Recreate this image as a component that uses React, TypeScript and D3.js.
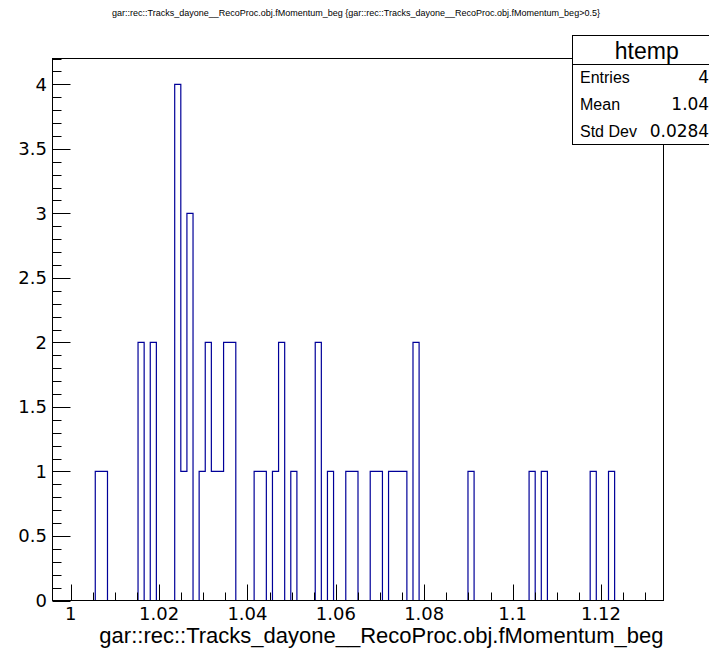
import React from 'react';
import * as d3 from 'd3';

// histogram "htemp": 100 bins, counts
const xRange = [0.99588, 1.13415];
const binCounts = [
  0, 0, 0, 0, 0, 0, 0, 1, 1, 0,
  0, 0, 0, 0, 2, 0, 2, 0, 0, 0,
  4, 1, 3, 0, 1, 2, 1, 1, 2, 2,
  0, 0, 0, 1, 1, 0, 1, 2, 0, 1,
  0, 0, 0, 2, 0, 1, 0, 0, 1, 1,
  0, 0, 1, 1, 0, 1, 1, 1, 0, 2,
  0, 0, 0, 0, 0, 0, 0, 0, 1, 0,
  0, 0, 0, 0, 0, 0, 0, 0, 1, 0,
  1, 0, 0, 0, 0, 0, 0, 0, 1, 0,
  0, 1, 0, 0, 0, 0, 0, 0, 0, 0,
];
const yMax = 4.2;
const xMajorTicks = [1, 1.02, 1.04, 1.06, 1.08, 1.1, 1.12];
const yMajorTicks = [0, 0.5, 1, 1.5, 2, 2.5, 3, 3.5, 4];
const statsLabels = ['Entries', 'Mean', 'Std Dev'];
const statsValues = ['46', '1.048', '0.02847'];

const varName = 'gar::rec::Tracks_dayone__RecoProc.obj.fMomentum_beg';
const title = `${varName} {${varName}>0.5}`;

const W = 709;
const H = 648;
const frame = { left: 52.5, right: 663.5, top: 58.5, bottom: 600.5 };
const numFont = '"DejaVu Sans", sans-serif';
const txtFont = '"Liberation Sans", Arial, sans-serif';

const App = () => {
  const x = d3.scaleLinear().domain(xRange).range([frame.left, frame.right]);
  const y = d3.scaleLinear().domain([0, yMax]).range([frame.bottom, frame.top]);

  const nBins = binCounts.length;
  const binW = (xRange[1] - xRange[0]) / nBins;
  const pts: [number, number][] = [];
  binCounts.forEach((c, i) => {
    pts.push([xRange[0] + i * binW, c]);
    pts.push([xRange[0] + (i + 1) * binW, c]);
  });
  const histPath = d3.line<[number, number]>()
    .x(d => x(d[0]))
    .y(d => y(d[1]))(pts);

  // minor ticks
  const xMinor = d3.range(0, 27).map(i => 1 + i * 0.005).filter(v => v <= xRange[1]);
  const yMinor = d3.range(0, 43).map(i => i * 0.1).filter(v => v <= yMax + 1e-9);

  const box = { left: 572.5, right: 721, top: 35.5, head: 64.5, bottom: 144.5 };
  const rowH = (box.bottom - box.head) / statsLabels.length;

  return (
    <svg width={W} height={H} style={{ position: 'absolute', left: 0, top: 0, background: '#fff' }}>
      <rect x={0} y={0} width={W} height={H} fill="#fff" />
      <text x={356} y={16} fontSize={9} fontFamily={txtFont} textAnchor="middle" fill="#000">
        {title}
      </text>

      {/* histogram outline */}
      <path d={histPath || ''} fill="none" stroke="#000099" strokeWidth={1.2} />

      {/* frame */}
      <rect
        x={frame.left}
        y={frame.top}
        width={frame.right - frame.left}
        height={frame.bottom - frame.top}
        fill="none"
        stroke="#000"
        strokeWidth={1}
      />

      {/* ticks */}
      <g stroke="#000" strokeWidth={1}>
        {xMinor.map(v => {
          const major = xMajorTicks.some(t => Math.abs(t - v) < 1e-6);
          const px = Math.round(x(v)) + 0.5;
          return <line key={'xm' + v} x1={px} x2={px} y1={frame.bottom} y2={frame.bottom - (major ? 16 : 8)} />;
        })}
        {yMinor.map(v => {
          const major = yMajorTicks.some(t => Math.abs(t - v) < 1e-6);
          const py = Math.round(y(v)) + 0.5;
          return <line key={'ym' + v} x1={frame.left} x2={frame.left + (major ? 18 : 9)} y1={py} y2={py} />;
        })}
      </g>

      {/* tick labels */}
      <g fontFamily={numFont} fontSize={18} fill="#000">
        {xMajorTicks.map(t => (
          <text key={'xl' + t} x={x(t)} y={619.5} textAnchor="middle">
            {d3.format('~g')(t)}
          </text>
        ))}
        {yMajorTicks.map(t => (
          <text key={'yl' + t} x={47} y={y(t) + 6.5} textAnchor="end">
            {d3.format('~g')(t)}
          </text>
        ))}
      </g>

      {/* axis title */}
      <text x={frame.right} y={643} fontSize={22} fontFamily={txtFont} textAnchor="end" fill="#000">
        {varName}
      </text>

      {/* stats box */}
      <g>
        <rect
          x={box.left}
          y={box.top}
          width={box.right - box.left}
          height={box.bottom - box.top}
          fill="#fff"
          stroke="#000"
          strokeWidth={1}
        />
        <line x1={box.left} x2={box.right} y1={box.head} y2={box.head} stroke="#000" />
        <text
          x={(box.left + box.right) / 2}
          y={58.5}
          fontSize={23}
          fontFamily={txtFont}
          textAnchor="middle"
          fill="#000"
        >
          htemp
        </text>
        {statsLabels.map((l, i) => (
          <g key={l}>
            <text x={580} y={box.head + rowH * (i + 0.5) + 5.5} fontSize={16} fontFamily={txtFont} fill="#000">
              {l}
            </text>
            <text
              x={720}
              y={box.head + rowH * (i + 0.5) + 5.5}
              fontSize={17}
              fontFamily={numFont}
              textAnchor="end"
              fill="#000"
            >
              {statsValues[i]}
            </text>
          </g>
        ))}
      </g>
    </svg>
  );
};

export default App;
